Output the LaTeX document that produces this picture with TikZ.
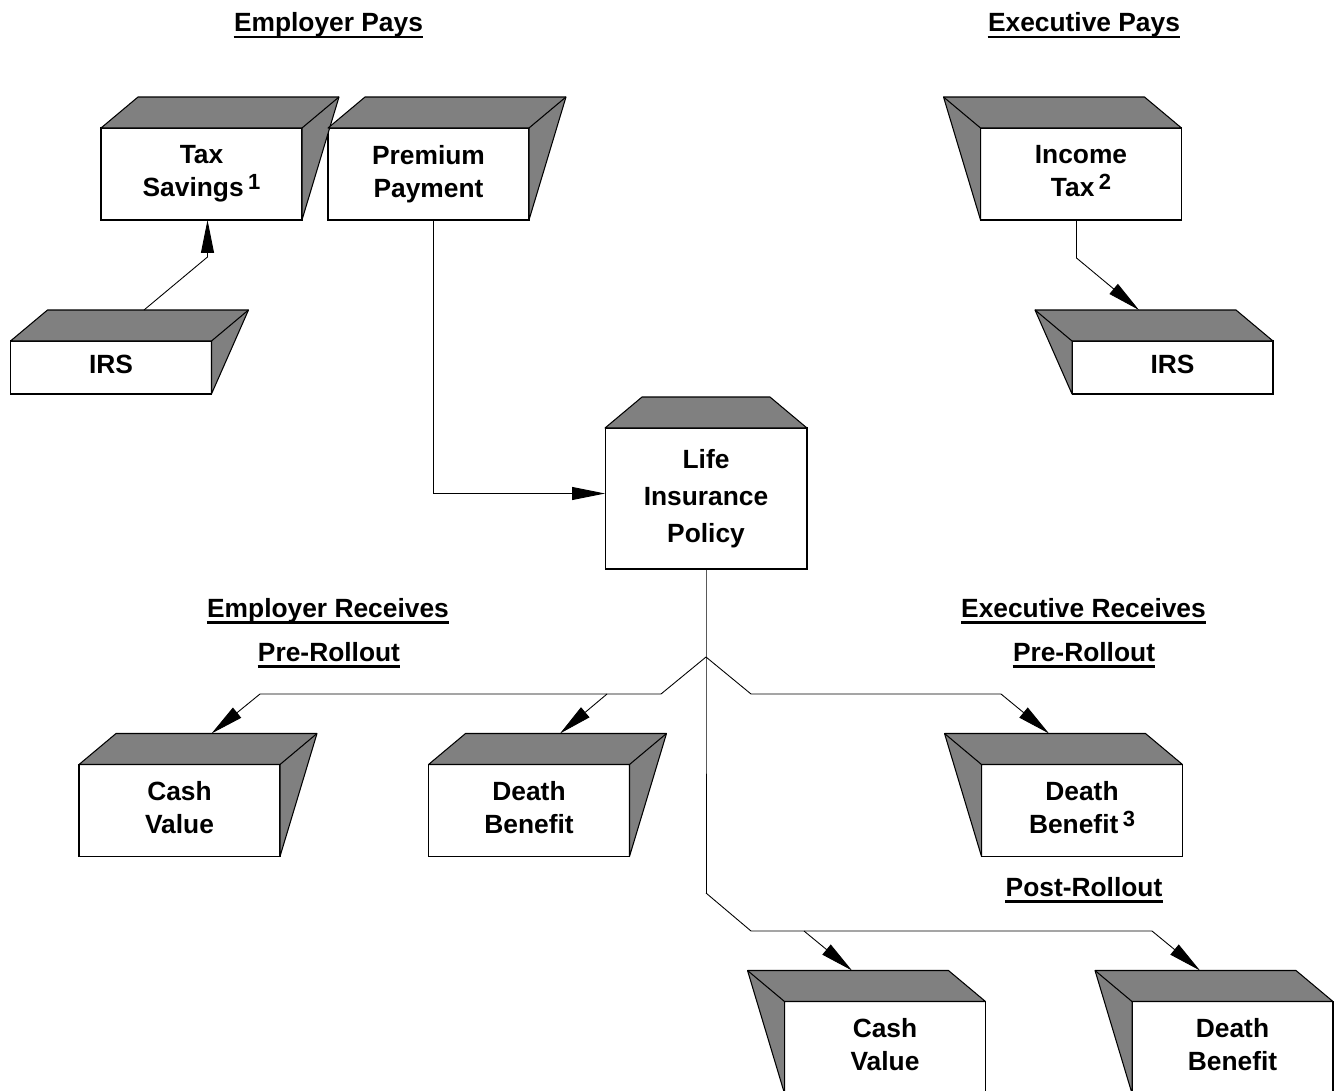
\documentclass[tikz,border=0pt]{standalone}
\usepackage{fontspec}
\setmainfont{Liberation Sans}
\usetikzlibrary{arrows.meta}
\definecolor{boxgray}{HTML}{808080}

\tikzset{
  blk/.style={draw, fill=white, line width=0.6pt, outer sep=0pt, inner sep=0pt,
    minimum width=4.02cm, minimum height=1.84cm, align=center, text depth=3.2pt,
    font=\bfseries\fontsize{15}{19}\selectfont},
  boxface/.style={fill=boxgray, draw, line width=0.6pt, line join=round},
  rim/.style={line width=0.6pt},
  hdr/.style={font=\bfseries\fontsize{15}{19}\selectfont, inner sep=0pt,
    text depth=2.8pt, anchor=base},
  wire/.style={line width=0.5pt},
  conn/.style={wire, ->},
}

% footnote number
\newcommand{\notenum}[1]{\,\raisebox{4.2pt}{\fontsize{12.5}{12.5}\selectfont #1}}

% side on the right / on the left
\newcommand{\sideR}[1]{%
  \filldraw[boxface] (#1.north west) -- ([shift={(37,-31)}]#1.north west)
    -- ([shift={(37,-31)}]#1.north east) -- (#1.south east) -- (#1.north east) -- cycle;
  \draw[rim] (#1.north east) -- ([shift={(37,-31)}]#1.north east);}
\newcommand{\sideL}[1]{%
  \filldraw[boxface] (#1.north east) -- ([shift={(-37,-31)}]#1.north east)
    -- ([shift={(-37,-31)}]#1.north west) -- (#1.south west) -- (#1.north west) -- cycle;
  \draw[rim] (#1.north west) -- ([shift={(-37,-31)}]#1.north west);}

\begin{document}
\begin{tikzpicture}[x=0.02cm,y=-0.02cm,>={Triangle[length=0.66cm,width=0.26cm]}]
    \useasboundingbox (0,0) rectangle (1335,1091);

    % Headings
    \node[hdr] (eph) at (328.5,32) {Employer Pays};
    \node[hdr] (xph) at (1084,32) {Executive Pays};
    \node[hdr] (erh) at (328,617) {Employer Receives};
    \node[hdr] (erp) at (329,661) {Pre-Rollout};
    \node[hdr] (xrh) at (1083.5,617) {Executive Receives};
    \node[hdr] (xrp) at (1084,661) {Pre-Rollout};
    \node[hdr] (xpo) at (1084,896) {Post-Rollout};
    \foreach \h in {eph,xph,erh,erp,xrh,xrp,xpo}
        \draw[line width=1.4pt] (\h.south west) -- (\h.south east);

    % Boxes
    \node[blk] (tax) at (201.5,174) {Tax\\Savings\notenum{1}};
    \node[blk] (prem) at (428.5,174) {Premium\\Payment};
    \node[blk,minimum height=1.06cm] (irsA) at (111,367.5) {IRS};
    \node[blk] (inc) at (1081,174) {Income\\Tax\notenum{2}};
    \node[blk,minimum height=1.06cm] (irsB) at (1172.5,367.5) {IRS};
    \node[blk,minimum width=4.04cm,minimum height=2.82cm,
        font=\bfseries\fontsize{15}{21}\selectfont] (pol) at (706,498.5) {Life\\Insurance\\Policy};
    \node[blk] (cashA) at (179.5,810.5) {Cash\\Value};
    \node[blk] (deathA) at (529,810.5) {Death\\Benefit};
    \node[blk] (deathB) at (1082,810.5) {Death\\Benefit\notenum{3}};
    \node[blk] (cashB) at (885,1047.5) {Cash\\Value};
    \node[blk] (deathC) at (1232.5,1047.5) {Death\\Benefit};

    % Faces
    \foreach \b in {tax,prem,irsA,cashA,deathA} {\sideR{\b}}
    \foreach \b in {inc,irsB,deathB,cashB,deathC} {\sideL{\b}}
    \filldraw[boxface] (pol.north west) -- ([shift={(37,-31)}]pol.north west)
        -- ([shift={(-37,-31)}]pol.north east) -- (pol.north east) -- cycle;

    % Payments
    \draw[conn] ([shift={(33,-31)}]irsA.north) -- ([shift={(6,37)}]tax.south) -- ([shift={(6,0)}]tax.south);
    \draw[conn] ([shift={(4.5,0)}]prem.south) |- ([shift={(0,-5)}]pol.west);
    \draw[conn] ([shift={(-4.5,0)}]inc.south) -- ++(0,38) -- ([shift={(-33.5,-31)}]irsB.north);

    % Benefits
    \coordinate (fork) at (706,657);
    \coordinate (low) at (706,893);
    \coordinate (jA) at (607,694);
    \coordinate (jB) at (804,931);
    \draw[wire] (pol.south) -- (fork) -- (low);
    \draw[conn] (fork) -- ++(-45,37) -- (260,694) -- ([shift={(32,-31)}]cashA.north);
    \draw[conn] (jA) -- ([shift={(31,-31)}]deathA.north);
    \draw[conn] (fork) -- ++(45,37) -- (1001,694) -- ([shift={(-33,-31)}]deathB.north);
    \draw[conn] (low) -- ++(45,38) -- (1152,931) -- ([shift={(-32.5,-31)}]deathC.north);
    \draw[conn] (jB) -- ([shift={(-33,-31)}]cashB.north);

\end{tikzpicture}
\end{document}
